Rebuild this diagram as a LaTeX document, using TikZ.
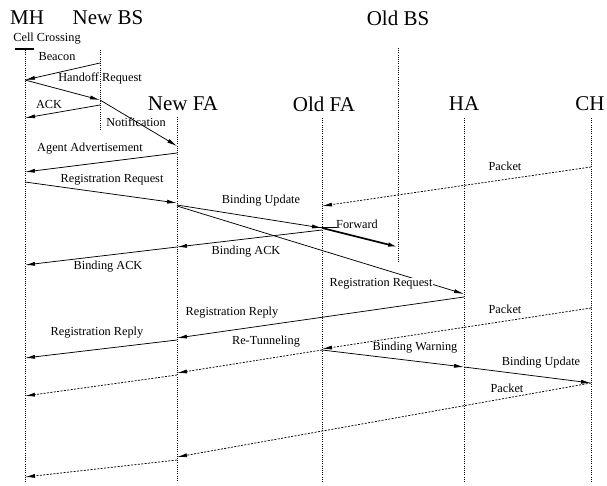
\documentclass[tikz,border=0pt]{standalone}
\usepackage{fontspec}
\setmainfont{Liberation Serif}
\usetikzlibrary{arrows.meta}
\begin{document}
\begin{tikzpicture}[x=1pt,y=-1pt,
  life/.style={line width=0.7pt,dash pattern=on 1pt off 1.2pt},
  msg/.style={line width=0.75pt,-{Latex[length=10pt,width=4pt]}},
  dmsg/.style={msg,dash pattern=on 2pt off 1.4pt},
  fwd/.style={line width=1.7pt,-{Latex[length=10pt,width=4.5pt]}},
  lbl/.style={font=\fontsize{12.3}{14}\selectfont,inner sep=1pt},
  ttl/.style={font=\fontsize{21}{24}\selectfont,inner sep=0pt}]
\useasboundingbox (0,0) rectangle (607,486);
% lifeline positions
\coordinate (mh) at (25,0);
\coordinate (nbs) at (100,0);
\coordinate (obs) at (398,0);
\coordinate (nfa) at (177,0);
\coordinate (ofa) at (322,0);
\coordinate (ha) at (464,0);
\coordinate (ch) at (591,0);
% titles
\node[ttl] (tmh) at (27,18) {MH};
\node[ttl] (tnbs) at (108,18) {New BS};
\node[ttl] (tobs) at (398,18) {Old BS};
\node[ttl] (tnfa) at (183,104) {New FA};
\node[ttl] (tofa) at (324,104) {Old FA};
\node[ttl] (tha) at (464,104) {HA};
\node[ttl] (tch) at (590,104) {CH};
% lifelines
\draw[life] (mh |- 0,50) -- (mh |- 0,482);
\draw[life] (nbs |- 0,50) -- (nbs |- 0,130);
\draw[life] (obs |- 0,48) -- (obs |- 0,262);
\draw[life] (nfa |- 0,117) -- (nfa |- 0,482);
\draw[life] (ofa |- 0,118) -- (ofa |- 0,482);
\draw[life] (ha |- 0,118) -- (ha |- 0,482);
\draw[life] (ch |- 0,118) -- (ch |- 0,482);
% cell crossing
\node[lbl] (cc) at (47,39) {Cell Crossing};
\draw[line width=1.6pt] (15,49) -- (34,49);
% messages
\draw[msg] (nbs |- 0,63) -- (mh |- 0,80);
\node[lbl] (lbeacon) at (57,57) {Beacon};
\draw[msg] (mh |- 0,80) -- (nbs |- 0,100);
\node[lbl] (lho) at (100,78) {Handoff Request};
\draw[msg] (nbs |- 0,105) -- (mh |- 0,118);
\node[lbl] (lack) at (49,104) {ACK};
\draw[msg] (nbs |- 0,100) -- (nfa |- 0,146);
\node[lbl] (lnot) at (136,122) {Notification};
\draw[msg] (nfa |- 0,153) -- (mh |- 0,172);
\node[lbl] (laa) at (90,149) {Agent Advertisement};
\draw[msg] (mh |- 0,182) -- (nfa |- 0,203);
\node[lbl] (lrr1) at (112,180) {Registration Request};
\draw[msg] (nfa |- 0,205) -- (ofa |- 0,228);
\node[lbl] (lbu1) at (261,201) {Binding Update};
\draw[line width=0.9pt] (313,227) -- (337,227);
\draw[fwd] (ofa |- 0,228) -- (obs |- 0,247);
\node[lbl] (lfwd) at (357,224) {Forward};
\draw[msg] (ofa |- 0,230) -- (nfa |- 0,247);
\node[lbl] (lback1) at (246,252) {Binding ACK};
\draw[msg] (nfa |- 0,247) -- (mh |- 0,265);
\node[lbl] (lback2) at (108,267) {Binding ACK};
\draw[msg] (nfa |- 0,206) -- (ha |- 0,294);
\node[lbl,fill=white] (lrr2) at (381,284) {Registration Request};
\draw[dmsg] (ch |- 0,167) -- (ofa |- 0,206);
\node[lbl] (lpk1) at (505,166) {Packet};
\draw[msg] (ha |- 0,297) -- (nfa |- 0,338);
\node[lbl] (lrep1) at (232,313) {Registration Reply};
\draw[msg] (nfa |- 0,340) -- (mh |- 0,358);
\node[lbl] (lrep2) at (97,333) {Registration Reply};
\draw[dmsg] (ch |- 0,308) -- (ofa |- 0,349);
\node[lbl] (lpk2) at (505,309) {Packet};
\draw[dmsg] (ofa |- 0,350) -- (nfa |- 0,373);
\node[lbl] (lrt) at (266,342) {Re-Tunneling};
\draw[dmsg] (nfa |- 0,375) -- (mh |- 0,396);
\draw[msg] (ofa |- 0,350) -- (ha |- 0,367);
\node[lbl] (lbw) at (415,348) {Binding Warning};
\draw[msg] (ha |- 0,367) -- (ch |- 0,383);
\node[lbl] (lbu2) at (541,363) {Binding Update};
\draw[dmsg] (ch |- 0,383) -- (nfa |- 0,457);
\node[lbl] (lpk3) at (507,388) {Packet};
\draw[dmsg] (nfa |- 0,460) -- (mh |- 0,477);
\end{tikzpicture}
\end{document}
